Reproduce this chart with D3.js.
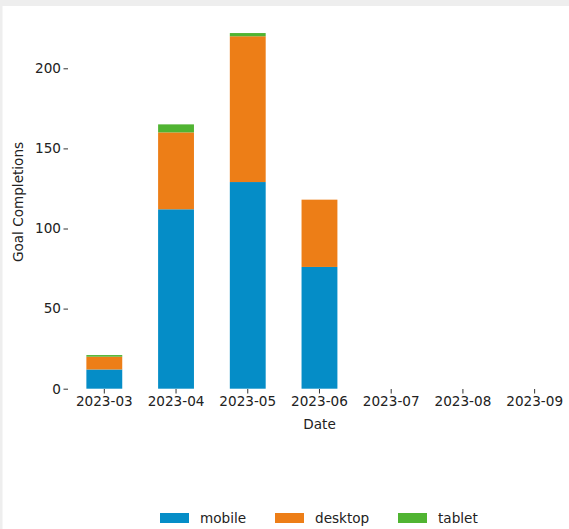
<!DOCTYPE html>
<html>
<head>
<meta charset="utf-8">
<script src="https://cdn.jsdelivr.net/npm/d3@7/dist/d3.min.js"></script>
<style>
html,body{margin:0;padding:0;background:#fff;}
svg{display:block;}
text{font-family:"DejaVu Sans",sans-serif;fill:#222;}
</style>
</head>
<body>
<svg id="chart" width="569" height="529"></svg>
<script>
const months = ["2023-03","2023-04","2023-05","2023-06","2023-07","2023-08","2023-09"];
const seriesNames = ["mobile","desktop","tablet"];
const mobile  = [12, 112, 129, 76, 0, 0, 0];
const desktop = [8, 48, 91, 42, 0, 0, 0];
const tablet  = [1, 5, 2, 0, 0, 0, 0];
const yTicks = [0, 50, 100, 150, 200];
const colors = ["#058DC7", "#ED7E17", "#50B432"];

const svg = d3.select("#chart");
const W = 569, H = 529;
const fs = 13.6;

// page frame
svg.append("rect").attr("x",0).attr("y",0).attr("width",W).attr("height",H).attr("fill","#fff");
svg.append("rect").attr("x",0).attr("y",0).attr("width",W).attr("height",6).attr("fill","#eeeeee");
svg.append("rect").attr("x",0).attr("y",0).attr("width",2.5).attr("height",H).attr("fill","#eeeeee");

const x = d3.scaleBand().domain(months).range([68.45, 570.5]).paddingInner(0.5).paddingOuter(0.25);
const y = d3.scaleLinear().domain([0, 200]).range([388.7, 68.3]);

const table = months.map((m, i) => ({month: m, mobile: mobile[i], desktop: desktop[i], tablet: tablet[i]}));
const stack = d3.stack().keys(seriesNames)(table);
const color = d3.scaleOrdinal().domain(seriesNames).range(colors);

const g = svg.append("g");
stack.forEach(layer => {
  g.selectAll(null).data(layer.filter(d => d[1] - d[0] > 0)).enter().append("rect")
    .attr("x", d => x(d.data.month))
    .attr("width", x.bandwidth())
    .attr("y", d => y(d[1]))
    .attr("height", d => y(d[0]) - y(d[1]))
    .attr("fill", color(layer.key));
});

// y axis
const yAxis = svg.append("g").attr("transform", "translate(68,0)")
  .call(d3.axisLeft(y).tickValues(yTicks).tickSize(4.5).tickPadding(2.5).tickFormat(d3.format("d")));
yAxis.select(".domain").remove();
yAxis.selectAll(".tick line").attr("stroke", "#333");
yAxis.selectAll(".tick text").attr("font-size", fs).attr("font-family", "DejaVu Sans").attr("fill", "#222");

// x axis
const xAxis = svg.append("g").attr("transform", "translate(0,389)")
  .call(d3.axisBottom(x).tickSize(4.5).tickPadding(3));
xAxis.select(".domain").remove();
xAxis.selectAll(".tick line").attr("stroke", "#333");
xAxis.selectAll(".tick text").attr("font-size", fs).attr("font-family", "DejaVu Sans").attr("fill", "#222");

// axis titles
svg.append("text").attr("x", 319.5).attr("y", 429).attr("text-anchor", "middle")
  .attr("font-size", fs).text("Date");
svg.append("text").attr("transform", "translate(23,202) rotate(-90)").attr("text-anchor", "middle")
  .attr("font-size", fs).text("Goal Completions");

// legend
const legX = [160, 275, 398];
const leg = svg.append("g");
seriesNames.forEach((s, i) => {
  leg.append("rect").attr("x", legX[i]).attr("y", 513).attr("width", 29).attr("height", 10).attr("fill", colors[i]);
  leg.append("text").attr("x", legX[i] + 40).attr("y", 523).attr("font-size", fs).text(s);
});
</script>
</body>
</html>
